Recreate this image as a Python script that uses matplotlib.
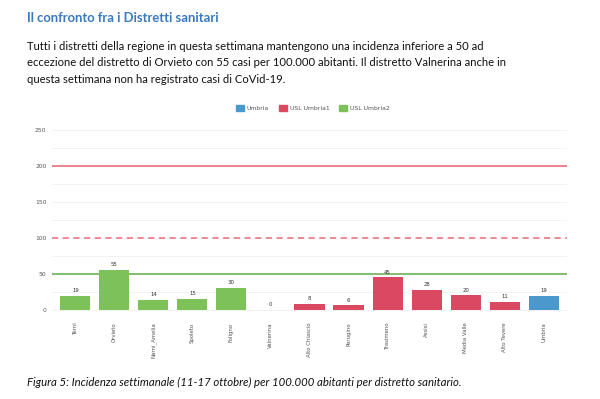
import matplotlib
matplotlib.use("Agg")
import matplotlib.pyplot as plt
from matplotlib.patches import Patch

# Dati: incidenza settimanale per 100.000 abitanti
distretti = ["Terni", "Orvieto", "Narni_Amelia", "Spoleto", "Foligno", "Valnerina",
             "Alto Chiascio", "Perugino", "Trasimeno", "Assisi", "Media Valle",
             "Alto Tevere", "Umbria"]
incidenza = [19, 55, 14, 15, 30, 0, 8, 6, 45, 28, 20, 11, 19]
gruppo = ["USL Umbria2"] * 6 + ["USL Umbria1"] * 6 + ["Umbria"]

soglie = [200, 100, 50]
yticks = [0, 50, 100, 150, 200, 250]

colori = {"Umbria": "#4a98cc", "USL Umbria1": "#db4862", "USL Umbria2": "#7cc258"}

fig = plt.figure(figsize=(6, 3.99), dpi=100)
fig.patch.set_facecolor("white")

# testo sopra il grafico
fig.text(27 / 600, 1 - 18 / 399, "Il confronto fra i Distretti sanitari",
         fontsize=9.4, color="#3a79bd", fontweight="bold", family="Lato", va="center")
body = ("Tutti i distretti della regione in questa settimana mantengono una incidenza inferiore a 50 ad\n"
        "eccezione del distretto di Orvieto con 55 casi per 100.000 abitanti. Il distretto Valnerina anche in\n"
        "questa settimana non ha registrato casi di CoVid-19.")
fig.text(27 / 600, 1 - 41 / 399, body, fontsize=8.1, family="Lato", va="top",
         linespacing=1.6, color="#111111")

ax = fig.add_axes([52 / 600, 1 - 317 / 399, 515 / 600, 198 / 399])
x = list(range(len(distretti)))
ax.bar(x, incidenza, width=0.77, color=[colori[g] for g in gruppo], zorder=3)

for xi, v in zip(x, incidenza):
    ax.text(xi, v + 4, str(v), ha="center", va="bottom", fontsize=3.9, color="#333333")

ax.axhline(soglie[0], color="#ec7a86", lw=1.3, zorder=2)
ax.axhline(soglie[1], color="#ec6a78", lw=1.1, ls=(0, (4, 3)), zorder=2)
ax.axhline(soglie[2], color="#62ad4a", lw=1.1, zorder=2)

ax.set_xlim(-0.6, 12.6)
ax.set_ylim(-10, 265)
ax.set_yticks(yticks)
ax.set_yticks([25, 75, 125, 175, 225], minor=True)
ax.grid(axis="y", which="both", color="#f0f0f0", lw=0.6, zorder=0)
ax.set_xticks(x)
ax.set_xticklabels(distretti, rotation=90, fontsize=3.9, color="#555555")
ax.tick_params(axis="y", labelsize=4.3, colors="#555555", length=0, pad=4)
ax.tick_params(axis="x", length=0, pad=4)
ax.tick_params(which="minor", length=0)
for s in ax.spines.values():
    s.set_visible(False)

handles = [Patch(color=colori[k]) for k in ["Umbria", "USL Umbria1", "USL Umbria2"]]
fig.legend(handles, ["Umbria", "USL Umbria1", "USL Umbria2"], loc="center",
           bbox_to_anchor=(313 / 600, 1 - 108 / 399), ncol=3, frameon=False,
           fontsize=4.4, handlelength=1.3, handleheight=1.3, columnspacing=1.6,
           handletextpad=0.5, labelcolor="#555555")

fig.text(27 / 600, 1 - 382 / 399,
         "Figura 5: Incidenza settimanale (11-17 ottobre) per 100.000 abitanti per distretto sanitario.",
         fontsize=8.2, family="Lato", style="italic", va="center", color="#111111")

fig.savefig("out.png", dpi=100)
